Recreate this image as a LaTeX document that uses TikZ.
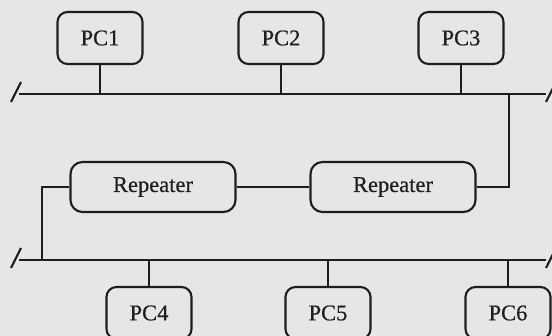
\documentclass[tikz,border=0pt]{standalone}
\usepackage{fontspec}
\setmainfont{Liberation Serif}
\newfontfamily\lblfont{Liberation Serif}[FakeBold=0.5]
\definecolor{paper}{RGB}{230,230,228}
\definecolor{ink}{RGB}{30,30,30}
\begin{document}
\begin{tikzpicture}[x=1pt,y=-1pt,
  line width=2.1pt,
  pcbox/.style={draw=ink, rounded corners=10pt, minimum width=85pt, minimum height=52pt, inner sep=0pt,
     font=\lblfont\fontsize{22.5}{27}\selectfont, text=ink},
  repbox/.style={draw=ink, rounded corners=12pt, minimum width=165pt, minimum height=50pt, inner sep=0pt,
     font=\lblfont\fontsize{22.5}{27}\selectfont, text=ink},
  wire/.style={draw=ink},
  brk/.style={draw=ink, line width=2.2pt}]
\useasboundingbox (0,0) rectangle (552,336);
\fill[paper] (0,0) rectangle (552,336);
\clip (0,0) rectangle (552,336);
% bus end points
\coordinate (tl) at (19,94);
\coordinate (tr) at (546,94);
\coordinate (bl) at (19,260);
\coordinate (br) at (546,260);
\coordinate (jt) at (509,94);
\coordinate (jb) at (42,260);
% buses
\draw[wire] (tl) -- (tr);
\draw[wire] (bl) -- (br);
% break marks
\draw[brk] (11,102) -- (21,82);
\draw[brk] (546,102) -- (556,82);
\draw[brk] (11,268) -- (21,248);
\draw[brk] (546,268) -- (556,248);
% top PCs
\node[pcbox] (pc1) at (100,38) {PC1};
\node[pcbox] (pc2) at (281,38) {PC2};
\node[pcbox] (pc3) at (461,38) {PC3};
% repeaters
\node[repbox] (rep1) at (153,187) {Repeater};
\node[repbox] (rep2) at (393,187) {Repeater};
% bottom PCs
\node[pcbox] (pc4) at (149,313) {PC4};
\node[pcbox] (pc5) at (328,313) {PC5};
\node[pcbox] (pc6) at (508,313) {PC6};
% connectors
\draw[wire] (pc1) -- (pc1 |- tl);
\draw[wire] (pc2) -- (pc2 |- tl);
\draw[wire] (pc3) -- (pc3 |- tl);
\draw[wire] (pc4) -- (pc4 |- bl);
\draw[wire] (pc5) -- (pc5 |- bl);
\draw[wire] (pc6) -- (pc6 |- bl);
\draw[wire] (rep1) -- (rep2);
\draw[wire] (rep2.east) -| (jt);
\draw[wire] (rep1.west) -| (jb);
\end{tikzpicture}
\end{document}
